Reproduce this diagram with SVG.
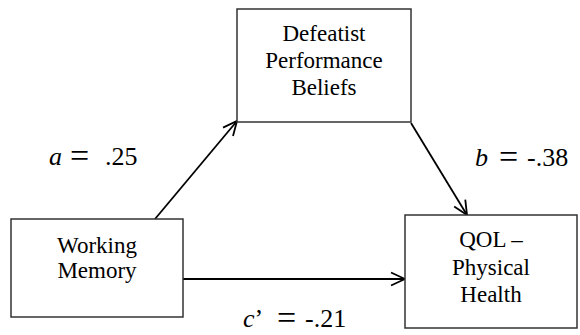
<svg xmlns="http://www.w3.org/2000/svg" width="580" height="335" viewBox="0 0 580 335">
  <style>
    .box { fill: #ffffff; stroke: #333333; stroke-width: 1.5; }
    .edge { stroke: #000000; stroke-width: 1.8; fill: none; }
  </style>
  <defs>
    <marker id="arr" viewBox="-16 -8 18 16" markerWidth="18" markerHeight="16" refX="0" refY="0" orient="auto" markerUnits="userSpaceOnUse">
      <path d="M-14,-6.5 L0,0 L-14,6.5" fill="none" stroke="#000000" stroke-width="1.8"/>
    </marker>
  </defs>
  <rect width="580" height="335" fill="#ffffff"/>
  <g id="connectors">
    <line class="edge" x1="155" y1="219" x2="237" y2="121" marker-end="url(#arr)"/>
    <line class="edge" x1="411" y1="123" x2="467" y2="215" marker-end="url(#arr)"/>
    <line class="edge" x1="183" y1="279" x2="405" y2="279" marker-end="url(#arr)"/>
  </g>
  <g id="node-defeatist">
    <rect class="box" x="237" y="9" width="174" height="113"/>
    <text x="324" y="41" font-family="'Liberation Serif', 'Times New Roman', serif" font-size="23" text-anchor="middle">Defeatist</text>
    <text x="324" y="68" font-family="'Liberation Serif', 'Times New Roman', serif" font-size="23" text-anchor="middle">Performance</text>
    <text x="324" y="95" font-family="'Liberation Serif', 'Times New Roman', serif" font-size="23" text-anchor="middle">Beliefs</text>
  </g>
  <g id="node-working-memory">
    <rect class="box" x="11" y="219" width="172" height="98"/>
    <text x="97" y="253" font-family="'Liberation Serif', 'Times New Roman', serif" font-size="23" text-anchor="middle">Working</text>
    <text x="97" y="278" font-family="'Liberation Serif', 'Times New Roman', serif" font-size="23" text-anchor="middle">Memory</text>
  </g>
  <g id="node-qol">
    <rect class="box" x="405" y="215" width="172" height="113"/>
    <text x="491" y="247" font-family="'Liberation Serif', 'Times New Roman', serif" font-size="23" text-anchor="middle">QOL –</text>
    <text x="491" y="275" font-family="'Liberation Serif', 'Times New Roman', serif" font-size="23" text-anchor="middle">Physical</text>
    <text x="491" y="302" font-family="'Liberation Serif', 'Times New Roman', serif" font-size="23" text-anchor="middle">Health</text>
  </g>
  <g id="labels">
    <text x="49" y="165" font-family="'Liberation Serif', 'Times New Roman', serif" font-size="26"><tspan font-style="italic">a</tspan><tspan x="70" font-size="34" dy="2">=</tspan><tspan x="105" font-size="26" dy="-2">.25</tspan></text>
    <text x="475" y="166" font-family="'Liberation Serif', 'Times New Roman', serif" font-size="26"><tspan font-style="italic">b</tspan><tspan x="499" font-size="34" dy="2">=</tspan><tspan x="527" font-size="26" dy="-2">-.38</tspan></text>
    <text x="243" y="327" font-family="'Liberation Serif', 'Times New Roman', serif" font-size="26"><tspan font-style="italic">c</tspan><tspan>’</tspan><tspan x="277" font-size="34" dy="2">=</tspan><tspan x="305" font-size="26" dy="-2">-.21</tspan></text>
  </g>
</svg>
